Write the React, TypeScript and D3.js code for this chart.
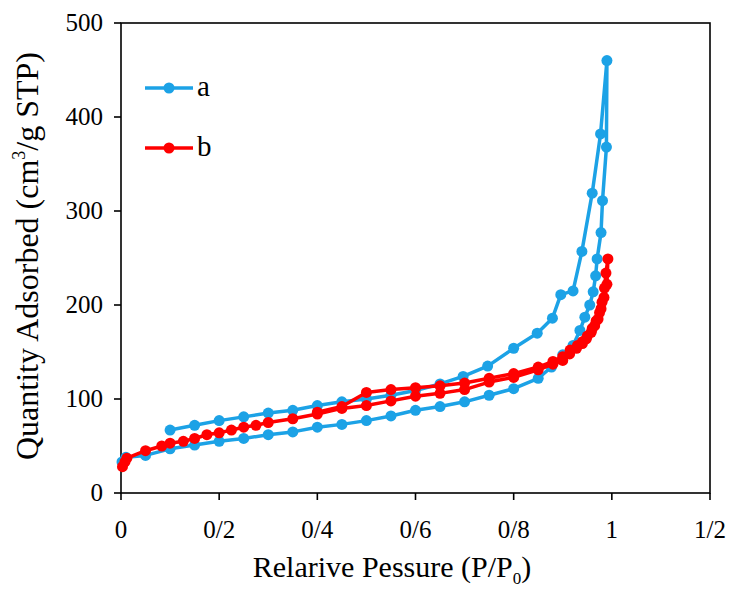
import * as d3 from "d3";

// isotherm a: adsorption branch (rising), then desorption branch (falling)
const aAdsorption: [number, number][] = [
  [0.002, 33], [0.01, 38], [0.05, 40], [0.1, 47], [0.15, 51], [0.2, 55],
  [0.25, 58], [0.3, 62], [0.35, 65], [0.4, 70], [0.45, 73], [0.5, 77],
  [0.55, 82], [0.6, 88], [0.65, 92], [0.7, 97], [0.75, 104], [0.8, 111],
  [0.85, 122], [0.877, 134], [0.9, 147], [0.921, 157], [0.935, 173],
  [0.945, 187], [0.955, 200], [0.962, 214], [0.967, 231], [0.97, 249],
  [0.978, 277], [0.981, 311], [0.989, 368], [0.99, 460],
];
const aDesorption: [number, number][] = [
  [0.977, 382], [0.96, 319], [0.939, 257], [0.921, 215], [0.896, 211],
  [0.879, 186], [0.848, 170], [0.8, 154], [0.747, 135], [0.697, 124],
  [0.65, 116], [0.6, 109], [0.55, 104], [0.5, 100], [0.45, 97], [0.4, 93],
  [0.35, 88], [0.3, 85], [0.25, 81], [0.2, 77], [0.15, 72], [0.1, 67],
];

// isotherm b
const bAdsorption: [number, number][] = [
  [0.003, 28], [0.008, 33], [0.012, 37], [0.05, 45], [0.083, 50], [0.1, 53],
  [0.127, 55], [0.15, 58], [0.175, 62], [0.2, 64], [0.225, 67], [0.25, 70],
  [0.275, 72], [0.3, 75], [0.35, 79], [0.4, 84], [0.45, 90], [0.5, 93],
  [0.55, 98], [0.6, 103], [0.65, 106], [0.7, 110], [0.75, 118], [0.8, 123],
  [0.85, 131], [0.88, 137], [0.9, 141], [0.914, 148], [0.928, 154],
  [0.94, 159], [0.948, 164], [0.958, 171], [0.965, 178], [0.972, 185],
  [0.978, 196], [0.984, 208], [0.99, 222], [0.992, 249],
];
const bDesorption: [number, number][] = [
  [0.988, 234], [0.985, 218], [0.98, 203], [0.975, 192], [0.968, 183],
  [0.96, 175], [0.95, 167], [0.94, 161], [0.93, 157], [0.915, 152],
  [0.9, 145], [0.88, 140], [0.85, 134], [0.8, 127], [0.75, 122],
  [0.7, 117], [0.65, 114], [0.6, 112], [0.55, 110], [0.5, 107],
  [0.45, 92], [0.4, 86],
];

const xTicks = [0, 0.2, 0.4, 0.6, 0.8, 1, 1.2];
const xTickLabels = ["0", "0/2", "0/4", "0/6", "0/8", "1", "1/2"];
const yTicks = [0, 100, 200, 300, 400, 500];

const series = [
  { name: "a", color: "#1ca2e6", points: [...aAdsorption, ...aDesorption] },
  { name: "b", color: "#ff0000", points: [...bAdsorption, ...bDesorption] },
];

const width = 729;
const height = 590;
const left = 121;
const right = 710;
const top = 23;
const bottom = 493;
const font = "'Liberation Serif', 'DejaVu Serif', serif";

export default function App() {
  const x = d3.scaleLinear().domain([0, 1.2]).range([left, right]);
  const y = d3.scaleLinear().domain([0, 500]).range([bottom, top]);
  const line = d3
    .line<[number, number]>()
    .x((d) => x(d[0]))
    .y((d) => y(d[1]));

  return (
    <svg
      width={width}
      height={height}
      style={{ position: "absolute", left: 0, top: 0, background: "#fff" }}
    >
      {/* frame */}
      <rect
        x={left}
        y={top}
        width={right - left}
        height={bottom - top}
        fill="none"
        stroke="#000"
        strokeWidth={1.6}
      />

      {yTicks.map((t) => (
        <g key={t}>
          <line x1={left - 7} x2={left} y1={y(t)} y2={y(t)} stroke="#000" strokeWidth={1.6} />
          <text
            x={left - 18}
            y={y(t)}
            dy="0.33em"
            textAnchor="end"
            fontSize={25}
            fontFamily={font}
          >
            {t}
          </text>
        </g>
      ))}

      {xTicks.map((t, i) => (
        <g key={t}>
          <line x1={x(t)} x2={x(t)} y1={bottom} y2={bottom + 7} stroke="#000" strokeWidth={1.6} />
          <text x={x(t)} y={bottom + 45} textAnchor="middle" fontSize={25} fontFamily={font}>
            {xTickLabels[i]}
          </text>
        </g>
      ))}

      {series.map((s) => (
        <g key={s.name}>
          <path
            d={line(s.points) ?? ""}
            fill="none"
            stroke={s.color}
            strokeWidth={3.5}
            strokeLinejoin="round"
          />
          {s.points.map((p, i) => (
            <circle key={i} cx={x(p[0])} cy={y(p[1])} r={5.5} fill={s.color} />
          ))}
        </g>
      ))}

      {/* legend */}
      {series.map((s, i) => {
        const ly = 88 + i * 60;
        return (
          <g key={s.name}>
            <line x1={145} x2={193} y1={ly} y2={ly} stroke={s.color} strokeWidth={3.5} />
            <circle cx={169} cy={ly} r={5.5} fill={s.color} />
            <text x={197} y={ly + 8} fontSize={29} fontFamily={font}>
              {s.name}
            </text>
          </g>
        );
      })}

      <text
        transform={`translate(38, 256) rotate(-90)`}
        textAnchor="middle"
        fontSize={32}
        fontFamily={font}
      >
        Quantity Adsorbed (cm
        <tspan fontSize={18} dy={-13}>3</tspan>
        <tspan dy={13}>/g STP)</tspan>
      </text>

      <text x={392} y={577} textAnchor="middle" fontSize={30} fontFamily={font}>
        Relarive Pessure (P/P
        <tspan fontSize={17} dy={7}>0</tspan>
        <tspan dy={-7}>)</tspan>
      </text>
    </svg>
  );
}
